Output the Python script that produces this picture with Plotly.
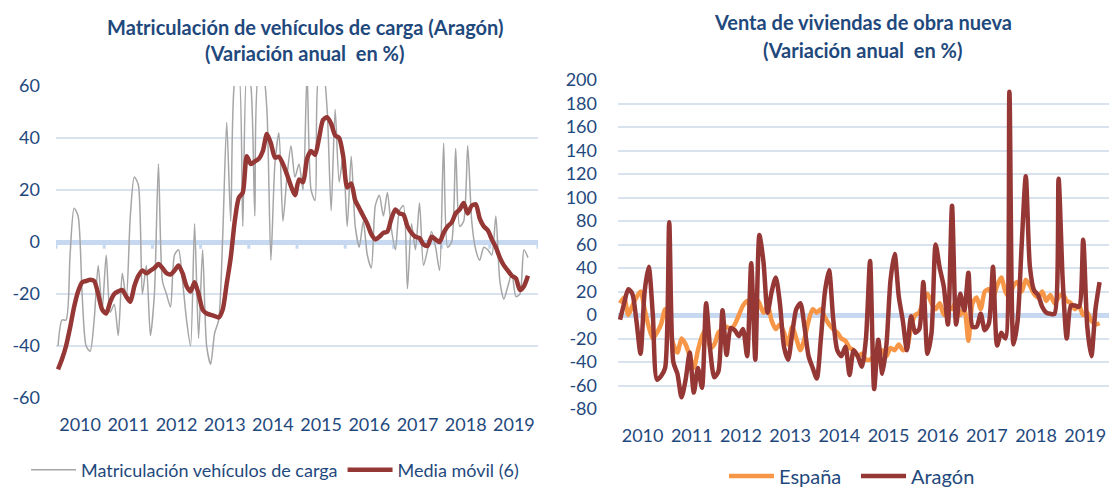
import plotly.graph_objects as go

W, H = 1109, 488

# ---------------- data ----------------
years = ["2010", "2011", "2012", "2013", "2014", "2015", "2016", "2017", "2018", "2019"]
months = list(range(118))  # Jan 2010 .. Oct 2019 (monthly index)

matriculacion = [
    -40, -30, -30, -5, 13, 10, -20, -40, -42, -30,
    -9, -26, -5, -27, -24, -36, -12, -22, 10, 25,
    22, -20, -9, -36, -20, 30, -15, -20, -25, -5,
    -3, -15, -30, -40, 7, -37, -3, -40, -47, -35,
    -30, 2, 46, 8, 62, 65, 6, 65, 60, 10,
    65, 65, 51, -7, 30, 42, 8, 25, 37, 25,
    30, 20, 65, 20, 16, 65, 65, 51, 12, 51,
    23, 33, 6, 33, 6, -2, 8, -5, -10, 14,
    18, 10, 19, 5, -3, 12, 14, -18, 7, -3,
    15, -9, -3, 4, -2, -11, 38, -2, 0, 36,
    6, 8, 37, 8, -3, -7, -2, -3, -5, 10,
    -15, -22, -17, -12, -21, -20, -3, -6,
]

media_movil = [
    -49, -45, -40, -33, -25, -19, -15.5, -15, -14.5, -15,
    -20, -26, -27.5, -23, -20, -19, -18.5, -21, -23, -17,
    -13, -11, -12, -11, -10, -8.5, -10, -12, -12.5, -11,
    -9, -12, -17, -19, -15.5, -20, -26, -27.5, -28, -28.5,
    -29, -26, -16, -6, 8, 17, 19, 33, 30, 31,
    32, 35, 41.5, 38, 32.5, 32.8, 30, 26, 21.5, 18,
    24, 23, 32, 35, 33.5, 40, 47, 48, 45.5, 41,
    40, 33, 21, 22.5, 16, 13, 10, 7, 3, 1,
    2, 3.5, 4, 9, 12.5, 11, 10.5, 6, 3.5, 2,
    1.5, -1, -1.5, 2, 1, 0, 3.5, 6, 7.5, 11,
    12.5, 15, 11, 14, 14.5, 9, 6, 4.5, 1, -2,
    -6, -9, -11, -13, -14, -18.5, -17, -13,
]

espana = [
    10, 15, 0, 8, 15, 20, 5, -10, -20, -15,
    -8, 5, -10, -25, -32, -20, -25, -35, -45, -30,
    -18, -12, -28, -25, -15, -12, -10, -12, -8, 0,
    8, 12, 5, 15, 10, 2, 8, -5, -12, -8,
    -15, -25, -10, -20, -30, -20, -5, 5, 2, 5,
    -2, -8, -12, -15, -20, -22, -28, -30, -35, -33,
    -38, -38, -35, -38, -30, -35, -28, -30, -25, -30,
    -28, -10, 0, 2, 12, 18, 10, 5, 10, 0,
    8, 5, 12, 0, 5, -22, 10, 15, 5, 20,
    22, 15, 25, 32, 20, 15, 25, 28, 20, 30,
    25, 18, 15, 20, 12, 17, 10, 15, 18, 12,
    10, 5, 8, 0, 2, -5, -8, -7,
]

aragon = [
    -4, 10, 22, 18, -5, -33, 20, 41, 0, -55,
    -52, -45, 79, -40, -50, -70, -55, -32, -66, -45,
    -62, 10, -30, -53, -48, 4, -34, -11, -13, -18,
    -12, -35, 44, -38, 68, 45, 2, 20, 32, 10,
    -27, -38, -16, 5, 10, -10, -35, -45, -54, -20,
    20, 38, -3, -30, -35, -27, -51, -30, -35, -44,
    -20, 46, -63, -21, -50, -25, 30, 52, 16, -5,
    -30, -1, -15, -12, 28, -33, -15, 60, 40, 24,
    -8, 93, -8, 18, 4, 36, -10, -10, 1, -13,
    -7, 41, -26, -15, -20, 190, -25, -5, 60, 118,
    41, 21, 17, 7, 2, 1, 1, 116, 30, -20,
    8, 8, 7, 64, -10, -35, 5, 28,
]

left_yticks = [-60, -40, -20, 0, 20, 40, 60]
right_yticks = [-80, -60, -40, -20, 0, 20, 40, 60, 80, 100, 120, 140, 160, 180, 200]

# ---------------- styles ----------------
FONT = "Lato"
BLUE_TXT = "#1F497D"
GRID = "#D9E3F0"
ZERO = "#C6D9F1"
GREY = "#A6A6A6"
RED = "#953735"
ORANGE = "#F79646"

year_pos = [12 * k + 5.5 for k in range(len(years))]
boundaries = [12 * k - 0.5 for k in range(len(years) + 1)]

fig = go.Figure()

fig.add_trace(go.Scatter(x=months, y=matriculacion, mode="lines", name="Matriculación vehículos de carga",
                         line=dict(color=GREY, width=1.5, shape="spline", smoothing=0.7),
                         xaxis="x", yaxis="y", legend="legend"))
fig.add_trace(go.Scatter(x=months, y=media_movil, mode="lines", name="Media móvil (6)",
                         line=dict(color=RED, width=4.5, shape="spline", smoothing=0.7),
                         xaxis="x", yaxis="y", legend="legend"))
fig.add_trace(go.Scatter(x=months, y=espana, mode="lines", name="España",
                         line=dict(color=ORANGE, width=4.5, shape="spline", smoothing=0.7),
                         xaxis="x2", yaxis="y2", legend="legend2"))
fig.add_trace(go.Scatter(x=months, y=aragon, mode="lines", name="Aragón",
                         line=dict(color=RED, width=4.5, shape="spline", smoothing=0.7),
                         xaxis="x2", yaxis="y2", legend="legend2"))

tickfont = dict(family=FONT, size=18, color=BLUE_TXT)

# small tick marks on the left zero line at year boundaries
for b in boundaries:
    fig.add_shape(type="line", xref="x", yref="y", x0=b, x1=b, y0=0, y1=-2.6,
                  line=dict(color=ZERO, width=3), layer="below")

fig.update_layout(
    width=W, height=H,
    margin=dict(l=0, r=0, t=0, b=0, autoexpand=False),
    paper_bgcolor="white", plot_bgcolor="white",
    showlegend=True,
    xaxis=dict(domain=[56 / W, 538 / W], range=[-0.5, 119.5], anchor="y", automargin=False,
               tickmode="array", tickvals=year_pos, ticktext=years,
               showgrid=False, zeroline=False, showline=False, ticks="",
               tickfont=tickfont, ticklabelstandoff=14),
    yaxis=dict(domain=[1 - 398 / H, 1 - 86 / H], range=[-60, 60], anchor="x", automargin=False,
               tickmode="array", tickvals=left_yticks, ticktext=[str(v) for v in left_yticks],
               showgrid=True, gridcolor=GRID, gridwidth=1.5,
               zeroline=True, zerolinecolor=ZERO, zerolinewidth=5,
               showline=False, ticks="", tickfont=tickfont, ticklabelstandoff=15),
    xaxis2=dict(domain=[618 / W, 1.0], range=[-0.5, 119.3], anchor="y2", automargin=False,
                tickmode="array", tickvals=year_pos, ticktext=years,
                showgrid=False, zeroline=False, showline=False, ticks="",
                tickfont=tickfont, ticklabelstandoff=14),
    yaxis2=dict(domain=[1 - 409 / H, 1 - 80 / H], range=[-80, 200], anchor="x2", automargin=False,
                tickmode="array", tickvals=right_yticks, ticktext=[str(v) for v in right_yticks],
                showgrid=True, gridcolor=GRID, gridwidth=1.5,
                zeroline=True, zerolinecolor=ZERO, zerolinewidth=5,
                showline=False, ticks="", tickfont=tickfont, ticklabelstandoff=20),
    legend=dict(orientation="h", x=26 / W, y=1 - 470 / H, xanchor="left", yanchor="middle",
                font=dict(family=FONT, size=18, color=BLUE_TXT), bgcolor="rgba(0,0,0,0)",
                itemwidth=45, traceorder="normal"),
    legend2=dict(orientation="h", x=724 / W, y=1 - 476 / H, xanchor="left", yanchor="middle",
                 font=dict(family=FONT, size=20, color=BLUE_TXT), bgcolor="rgba(0,0,0,0)",
                 itemwidth=45, traceorder="normal", entrywidth=72),
)

title_font = dict(family=FONT, size=20, color=BLUE_TXT)
NB = "\u00a0"
titles = [
    (305, 27, "<b>Matriculación de vehículos de carga (Aragón)</b>"),
    (305, 53, "<b>(Variación anual" + NB + " en %)</b>"),
    (863, 22, "<b>Venta de viviendas de obra nueva</b>"),
    (863, 50, "<b>(Variación anual" + NB + " en %)</b>"),
]
for xc, yc, txt in titles:
    fig.add_annotation(text=txt, xref="paper", yref="paper", x=xc / W, y=1 - yc / H,
                       xanchor="center", yanchor="middle", showarrow=False, font=title_font)

fig.write_html("out.html", config={"displayModeBar": False},
               post_script="document.body.style.margin='0px';")
